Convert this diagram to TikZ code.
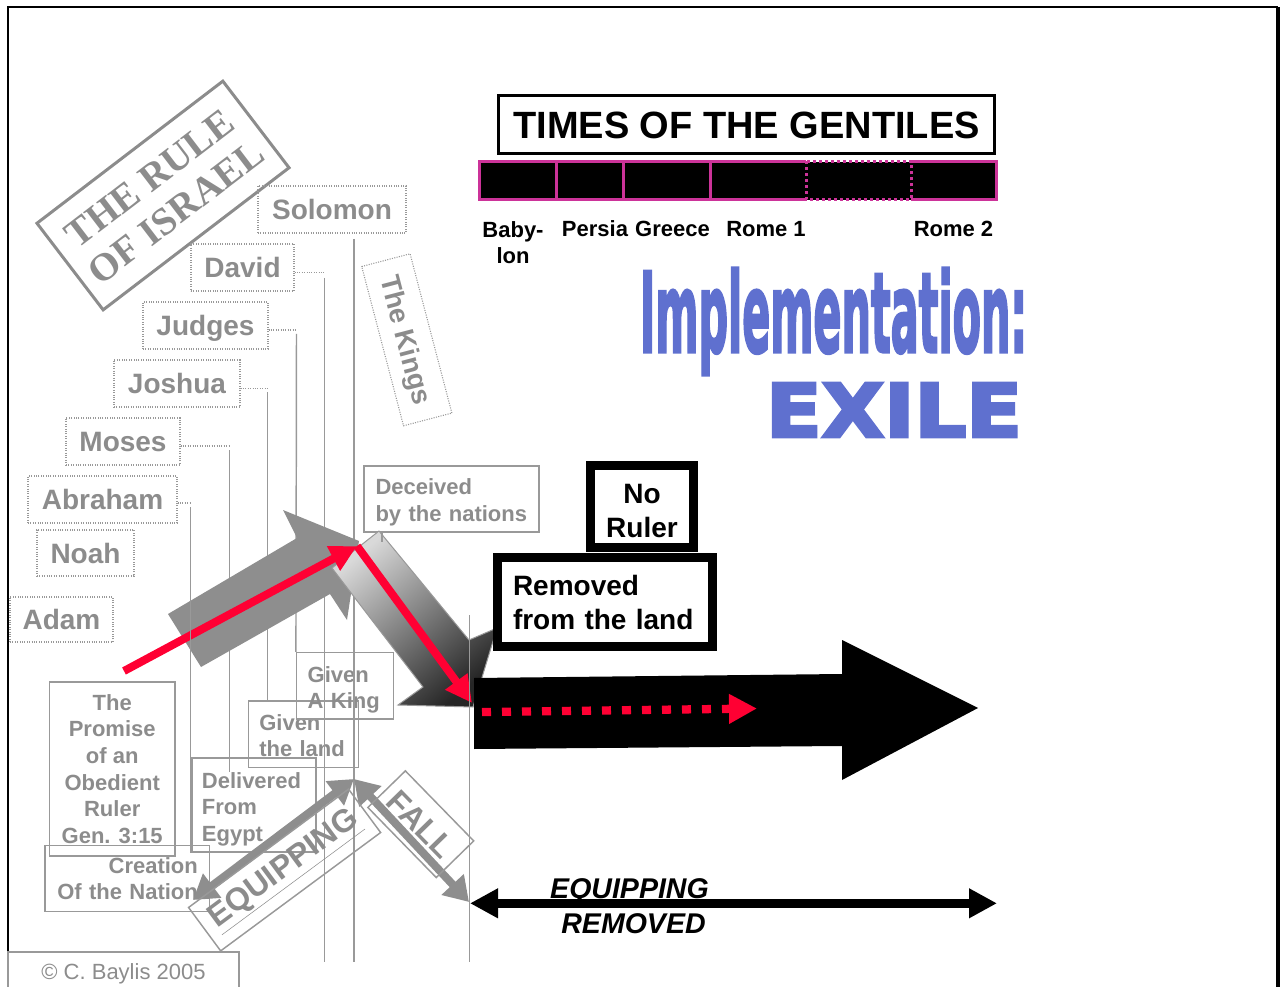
\documentclass[tikz,border=0pt]{standalone}
\usepackage{fontspec}
\setmainfont{Liberation Sans}
\newfontfamily\rulefont{Liberation Serif}
\newfontfamily\heavyfont{DejaVu Sans}
\usetikzlibrary{arrows.meta}
\definecolor{tg}{HTML}{8C8C8C}
\definecolor{lg}{HTML}{999999}
\definecolor{agray}{HTML}{8E8E8E}
\definecolor{mag}{HTML}{CC3399}
\definecolor{rd}{HTML}{FF0033}
\definecolor{implfill}{HTML}{5F70CF}
\newcommand\fsz[2]{\fontsize{#1}{#2}\selectfont}
\newcommand\topstrut[1]{\rule{0pt}{#1}}
\tikzset{
  namebox/.style={draw=lg, densely dotted, line width=0.8pt, text=tg, inner sep=0pt,
    font=\bfseries\fsz{21}{25}, text height=15pt, text depth=0pt},
  graybox/.style={draw=lg, line width=1.1pt, text=tg, inner ysep=0pt,
    font=\bfseries\fsz{16.5}{20}},
  vline/.style={draw=lg, line width=1.1pt},
  dotconn/.style={draw=lg, densely dotted, line width=0.8pt},
  blackbox/.style={draw=black, line width=6.75pt, fill=white, inner sep=0pt,
    font=\bfseries\fsz{21}{25.5}},
  barline/.style={draw=mag, line width=2.25pt},
  perlabel/.style={font=\bfseries\fsz{16.5}{20}, inner sep=0pt},
  grayarr/.style={draw=agray, line width=6pt,
    {Triangle[length=18pt,width=21.75pt]}-{Triangle[length=18pt,width=21.75pt]}},
  redarr/.style={draw=rd, line width=6pt, -{Triangle[length=20pt,width=19.5pt]}},
  tagbox/.style={draw=lg, line width=1.1pt, text=tg, inner sep=0pt, font=\bfseries\fsz{24}{28}},
  bigtext/.style={inner sep=0pt, anchor=base, text=implfill},
}
\begin{document}
\begin{tikzpicture}[x=0.75pt,y=-0.75pt]
\useasboundingbox (0,0) rectangle (1285,987);
\clip (0,0) rectangle (1285,987);
% frame
\draw[line width=1.5pt] (8,995) -- (8,7) -- (1278,7);
\draw[line width=2.6pt] (1278,7) -- (1278,995);

% the rule of israel
\node[draw=tg, line width=2.25pt, rotate=37.4, minimum width=175.5pt, minimum height=81.75pt,
  inner sep=0pt, text=tg, align=center, font=\rulefont\bfseries\fsz{29.25}{32.25}] (rule) at (163,195.5) {THE RULE\\OF ISRAEL};

% names
\node[namebox, minimum width=111pt, minimum height=35.25pt] (solomon) at (332,209.5) {Solomon};
\node[namebox, minimum width=77.25pt, minimum height=35.25pt] (david) at (242.5,267.5) {David};
\node[namebox, minimum width=93.75pt, minimum height=35.25pt] (judges) at (205.5,325.5) {Judges};
\node[namebox, minimum width=94.5pt, minimum height=35.25pt] (joshua) at (177,383.5) {Joshua};
\node[namebox, minimum width=85.5pt, minimum height=35.25pt] (moses) at (123,441.5) {Moses};
\node[namebox, minimum width=111.75pt, minimum height=35.25pt] (abraham) at (102.5,499.5) {Abraham};
\node[namebox, minimum width=72.75pt, minimum height=34.5pt] (noah) at (85.5,553) {Noah};
\node[namebox, minimum width=77.25pt, minimum height=33.75pt] (adam) at (61.5,619.5) {Adam};
\node[namebox, rotate=-75.3, minimum width=123.5pt, minimum height=37.5pt,
  font=\bfseries\fsz{20.6}{24}, text height=14.7pt] (kings) at (406.8,339.8) {The Kings};

% gray boxes
\node[graybox, minimum width=94.3pt, minimum height=130.7pt, align=center, inner xsep=0pt] (promise) at (112.2,768.9) {The\\Promise\\of an\\Obedient\\Ruler\\Gen. 3:15};
\node[graybox, minimum height=49.5pt, text width=106pt, inner xsep=8.6pt, align=right] (creation) at (127.2,878.7) {Creation\\Of the Nation};
\node[graybox, minimum height=70.5pt, text width=78pt, inner xsep=7.6pt, align=left] (deliv) at (253.9,805) {\topstrut{18pt}Delivered\\From\\Egypt};
\node[graybox, minimum height=50pt, text width=66pt, inner xsep=8.25pt, align=left] (land) at (303.3,734.3) {\topstrut{14pt}Given\\the land};
\node[graybox, minimum height=49.7pt, text width=56pt, inner xsep=8.25pt, align=left] (king) at (345,685.8) {\topstrut{18pt}Given\\A King};
\node[graybox, minimum height=49.5pt, text width=114pt, inner xsep=8.6pt, align=left] (deceived) at (451.5,499) {\topstrut{17pt}Deceived\\by the nations};

% connectors of the names
\coordinate (slA) at (354,239); \coordinate (slB) at (354,962);
\coordinate (dvA) at (324.5,272.5); \coordinate (dvB) at (324.5,962);
\coordinate (jdA) at (296.5,330);
\coordinate (jsA) at (267.5,388.3);
\coordinate (msA) at (229.5,446); \coordinate (msB) at (229.5,772);
\coordinate (abA) at (190.5,503); \coordinate (abB) at (190.5,853);
\coordinate (l4A) at (469.5,615); \coordinate (l4B) at (469.5,962);
\coordinate (dcA) at (382,532);
\draw[vline] (slA) -- (slB);
\draw[dotconn] (david.east |- dvA) -- (dvA);
\draw[vline] ([yshift=-4pt]dvA) -- (dvB);
\draw[dotconn] (judges.east |- jdA) -- (jdA);
\draw[vline] ([yshift=-3pt]jdA) -- (king.north west);
\draw[dotconn] (joshua.east |- jsA) -- (jsA);
\draw[vline] ([yshift=-3pt]jsA) -- (land.north -| jsA);
\draw[dotconn] (moses.east |- msA) -- (msA);
\draw[vline] ([yshift=-3pt]msA) -- (msB);
\draw[dotconn] (abraham.east |- abA) -- (abA);

% gray arrow and shaded arrow
\fill[agray] (168,614) -- (297,538) -- (283,510) -- (359,541) -- (347,620) -- (330,594) -- (201,667) -- cycle;
\shade[draw=lg, line width=0.75pt, top color=black!15, bottom color=black!85, shading angle=40]
  (379,531) -- (469,640) -- (497,628) -- (473,707) -- (398,705) -- (423,687) -- (332,568) -- cycle;

% red arrow
\coordinate (r0) at (124,671); \coordinate (r1) at (357,546); \coordinate (r2) at (472,703);
\draw[redarr] (r0) -- (r1);
\draw[redarr] (r1) -- (r2);

\draw[vline] ([yshift=-3pt]abA) -- (abB);
\draw[vline] (l4A) -- (l4B);
\draw[vline] (deceived.south -| dcA) -- ++(0,9);

% equipping / fall
\coordinate (g1) at (193,900); \coordinate (g2) at (354,779); \coordinate (g3) at (469,902);
\draw[grayarr] (g1) -- (g2);
\draw[grayarr] (g2) -- (g3);
\node[tagbox, rotate=36.5, minimum width=149.25pt, minimum height=40.5pt] (equip) at (284.6,870) {\underline{EQUIPPING}};
\node[tagbox, rotate=-45.7, minimum width=73.4pt, minimum height=39.3pt] (fall) at (420.8,824.2) {FALL};

% times of the gentiles
\node[draw=black, line width=2.25pt, minimum width=372pt, minimum height=43.5pt, inner sep=0pt,
  font=\bfseries\fsz{28.5}{30}, text height=20.4pt, text depth=0pt] (times) at (746.5,124.5) {TIMES OF THE GENTILES};
\fill[black] (480,162) rectangle (997,200);
\draw[barline] (806,161.5) -- (479.5,161.5) -- (479.5,199.5) -- (806,199.5);
\draw[barline] (911,161.5) -- (996.5,161.5) -- (996.5,199.5) -- (911,199.5);
\draw[barline] (556,161.5) -- (556,199.5);
\draw[barline] (623,161.5) -- (623,199.5);
\draw[barline] (710,161.5) -- (710,199.5);
\draw[barline, dash pattern=on 2.25pt off 2.25pt] (806,161.5) rectangle (911,199.5);
\node[perlabel, align=center] (babylon) at (513,242.5) {Baby-\\lon};
\node[perlabel, anchor=base] (persia) at (595,237) {Persia};
\node[perlabel, anchor=base] (greece) at (672.5,237) {Greece};
\node[perlabel, anchor=base] (rome1) at (766,237) {Rome 1};
\node[perlabel, anchor=base] (rome2) at (953.5,237) {Rome 2};

\node[bigtext, font=\heavyfont\bfseries\fsz{60}{60}\addfontfeature{FakeBold=3}] (impl) at (833.5,352) {\resizebox{290.25pt}{63pt}{Implementation:}};
\node[bigtext, font=\heavyfont\bfseries\fsz{60}{60}\addfontfeature{FakeBold=4}] (exile) at (894,437) {\resizebox{192pt}{40.5pt}{EXILE}};

% black boxes
\node[blackbox, minimum width=77.25pt, minimum height=61.5pt, align=center] (noruler) at (642,506.5) {\topstrut{21pt}No\\Ruler};
\node[blackbox, minimum height=66.75pt, text width=138pt, inner xsep=11.6pt, align=left] (removed) at (605,602) {Removed\\from the land};

% big black arrow
\fill[black] (474,678) -- (842,674) -- (842,640) -- (978,708) -- (842,780) -- (842,746) -- (474,749) -- cycle;
\coordinate (d0) at (482,712); \coordinate (d1) at (757,708.5);
\draw[draw=rd, line width=6.2pt, dash pattern=on 6.75pt off 8.25pt, -{Triangle[length=21pt,width=21pt]}] (d0) -- (d1);

% bottom double arrow
\coordinate (e0) at (470,903.3); \coordinate (e1) at (997,903.3);
\draw[line width=6.75pt, {Triangle[length=21pt,width=21pt]}-{Triangle[length=21pt,width=21pt]}] (e0) -- (e1);
\node[font=\bfseries\itshape\fsz{21.4}{24}, inner sep=0pt, text height=15.3pt, text depth=0pt] (eqlbl) at (629.5,888) {EQUIPPING};
\node[font=\bfseries\itshape\fsz{21.4}{24}, inner sep=0pt, text height=15.3pt, text depth=0pt] (remlbl) at (633.5,923) {REMOVED};

% copyright
\node[draw=lg, line width=1.1pt, minimum width=173.25pt, minimum height=36pt, inner sep=0pt, text=tg,
  font=\fsz{16.5}{20}, text height=11.8pt, text depth=6pt] (copy) at (123.5,976) {© C. Baylis 2005};
\end{tikzpicture}
\end{document}
